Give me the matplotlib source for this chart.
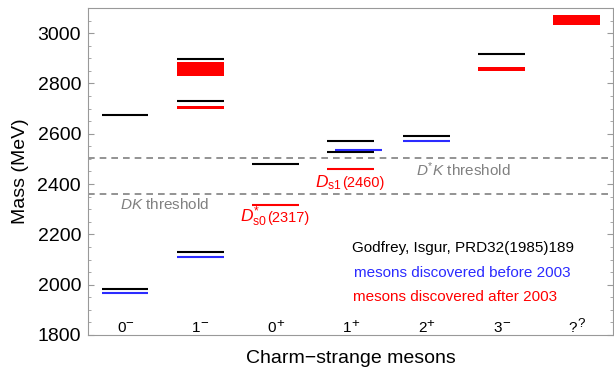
import matplotlib
matplotlib.use('Agg')
import matplotlib.pyplot as plt
from matplotlib.ticker import MultipleLocator

plt.rcParams['font.family'] = ['Liberation Sans', 'DejaVu Sans']
plt.rcParams['mathtext.fontset'] = 'custom'
plt.rcParams['mathtext.rm'] = 'Liberation Sans'
plt.rcParams['mathtext.it'] = 'Liberation Sans:italic'
plt.rcParams['mathtext.bf'] = 'Liberation Sans:bold'

# quantum numbers J^P
spin = ['0', '1', '0', '1', '2', '3', '?']
parity = ['\u2212', '\u2212', '+', '+', '+', '\u2212', '?']

# Godfrey-Isgur predictions (black)
gi_x = [0, 0, 1, 1, 1, 2, 3, 3, 4, 5]
gi_mass = [1981, 2673, 2129, 2732, 2899, 2480, 2528, 2570, 2590, 2917]

# discovered before 2003 (blue)
old_x = [0, 1, 3.1, 4]
old_mass = [1968, 2112, 2535, 2570]

# discovered after 2003 (red lines and bands)
new_x = [2, 3]
new_mass = [2317, 2460]
band_x = [1, 1, 5, 6]
band_lo = [2700, 2830, 2851, 3032]
band_hi = [2712, 2885, 2866, 3074]

dk_threshold = 2360
dstark_threshold = 2504

halfw = 0.31
grey = '#999999'

fig = plt.figure(figsize=(6.14, 3.67), dpi=100)
ax = fig.add_axes([0.1433, 0.0872, 0.855, 0.891])

ax.axhline(dk_threshold, color='#808080', ls=(0, (4, 3)), lw=1.2)
ax.axhline(dstark_threshold, color='#808080', ls=(0, (4, 3)), lw=1.2)

ax.hlines(gi_mass, [x - halfw for x in gi_x], [x + halfw for x in gi_x], color='black', lw=1.5)
ax.hlines(old_mass, [x - halfw for x in old_x], [x + halfw for x in old_x], color='#2b2bff', lw=1.5)
ax.hlines(new_mass, [x - halfw for x in new_x], [x + halfw for x in new_x], color='red', lw=1.5)
ax.bar(band_x, [h - l for h, l in zip(band_hi, band_lo)], bottom=band_lo,
       width=2 * halfw, color='red', lw=0)

for i, (j, p) in enumerate(zip(spin, parity)):
    t = ax.text(i - 0.05, 1810, j, ha='center', va='baseline', fontsize=11)
    ax.annotate(p, xy=(1.0, 0.85), xycoords=t, ha='left', va='center', fontsize=9.5)

ax.text(-0.07, 2318, r'$DK$ threshold', color='#808080', fontsize=11, va='center')
ax.text(3.87, 2457, r'$D^{*}K$ threshold', color='#808080', fontsize=11, va='center')

t1 = ax.text(1.53, 2249, r'$D^{*}_{\mathrm{s0}}$', color='red', fontsize=12.5, va='baseline')
ax.annotate('(2317)', xy=(1.0, 2249), xycoords=(t1, 'data'), color='red',
            fontsize=10.5, va='baseline')
t2 = ax.text(2.53, 2389, r'$D_{\mathrm{s1}}$', color='red', fontsize=12.5, va='baseline')
ax.annotate('(2460)', xy=(1.0, 2389), xycoords=(t2, 'data'), color='red',
            fontsize=10.5, va='baseline')

ax.text(3.02, 2146, 'Godfrey, Isgur, PRD32(1985)189', color='black', fontsize=11, va='center')
ax.text(3.04, 2048, 'mesons discovered before 2003', color='#2b2bff', fontsize=11, va='center')
ax.text(3.03, 1950, 'mesons discovered after 2003', color='red', fontsize=11, va='center')

ax.set_xlim(-0.49, 6.48)
ax.set_ylim(1800, 3100)
ax.set_xticks([])
ax.yaxis.set_major_locator(MultipleLocator(200))
ax.yaxis.set_minor_locator(MultipleLocator(50))
ax.tick_params(axis='y', which='both', direction='in', left=True, right=True,
               color=grey, labelsize=14, pad=5)
ax.tick_params(axis='y', which='major', length=4)
ax.tick_params(axis='y', which='minor', length=2.5)
for s in ax.spines.values():
    s.set_color(grey)

ax.set_ylabel('Mass (MeV)', fontsize=14, labelpad=6)
ax.set_xlabel('Charm\u2212strange mesons', fontsize=14, labelpad=11)

fig.savefig('out.png', dpi=100)
